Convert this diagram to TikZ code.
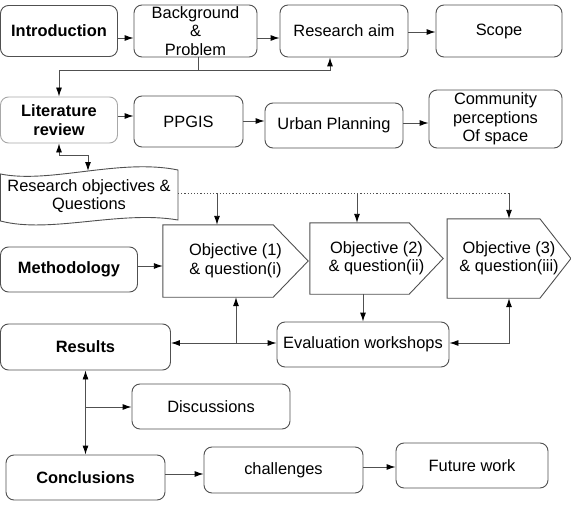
\documentclass[tikz,border=0pt]{standalone}
\usepackage{fontspec}
\setmainfont{Liberation Sans}
\usetikzlibrary{arrows.meta,calc}
\definecolor{linegray}{HTML}{505050}
\definecolor{lightgray}{HTML}{A8A8A8}
\begin{document}
\begin{tikzpicture}[x=1pt,y=-1pt,
  txt/.style={font=\fontsize{16.4}{18.5}\selectfont, text=black, inner sep=0pt, align=center},
  bold/.style={font=\fontsize{16.4}{18.5}\selectfont\bfseries},
  box/.style={txt, draw=linegray, line width=0.9pt, rounded corners=8pt},
  lnk/.style={draw=linegray, line width=0.9pt},
  arr/.style={lnk, -{Latex[length=9pt,width=6pt,black]}},
  barr/.style={lnk, {Latex[length=9pt,width=6pt,black]}-{Latex[length=9pt,width=6pt,black]}},
  objtxt/.style={txt},
]
\useasboundingbox (0,0) rectangle (571,511);

% top row
\node[box, bold, minimum width=117, minimum height=51] (intro) at (59,31) {Introduction};
\node[box, minimum width=123, minimum height=52] (bg) at (195.5,31) {Background\\\&\\Problem};
\node[box, minimum width=128, minimum height=52] (aim) at (344,31) {Research aim};
\node[box, minimum width=126, minimum height=52] (scope) at (499,31) {Scope};

% second row
\node[box, bold, draw=lightgray, minimum width=117, minimum height=46] (lit) at (59,120) {Literature\\review};
\node[box, minimum width=109, minimum height=51] (ppgis) at (188.5,121.5) {PPGIS};
\node[box, minimum width=138, minimum height=45] (urban) at (334,125.5) {Urban Planning};
\node[box, minimum width=133, minimum height=58] (comm) at (495.5,119) {Community\\perceptions\\Of space};

% tape
\draw[lnk, fill=white] (0.5,174) .. controls (50,184) and (120,158) .. (178,170) -- (178,220) .. controls (120,210) and (50,234) .. (0.5,221) -- cycle;
\node[txt] (roq) at (89,196) {Research objectives \&\\Questions};
\coordinate (tt) at (88,171);
\coordinate (tr) at (178,193);

% objectives
\node[box, bold, minimum width=137, minimum height=45] (meth) at (69,269.5) {Methodology};
\node[objtxt, minimum width=145, minimum height=72] (obj1) at (235.5,261) {Objective (1)\\\& question(i)};
\node[objtxt, minimum width=133, minimum height=71] (obj2) at (376.5,258.5) {Objective (2)\\\& question(ii)};
\node[objtxt, minimum width=123.5, minimum height=79] (obj3) at (509,258.5) {Objective (3)\\\& question(iii)};
\draw[lnk] (obj1.north west) -- ($(obj1.north east)+(-35,0)$) -- (obj1.east) -- ($(obj1.south east)+(-35,0)$) -- (obj1.south west) -- cycle;
\draw[lnk] (obj2.north west) -- ($(obj2.north east)+(-34,0)$) -- (obj2.east) -- ($(obj2.south east)+(-34,0)$) -- (obj2.south west) -- cycle;
\draw[lnk] (obj3.north west) -- ($(obj3.north east)+(-31,0)$) -- (obj3.east) -- ($(obj3.south east)+(-31,0)$) -- (obj3.south west) -- cycle;

% lower part
\node[box, bold, minimum width=170, minimum height=46] (results) at (85.5,347) {Results};
\node[box, minimum width=172, minimum height=45] (eval) at (363,344.5) {Evaluation workshops};
\node[box, minimum width=158, minimum height=45] (disc) at (211,406.5) {Discussions};
\node[box, bold, minimum width=159, minimum height=45] (concl) at (85.5,477.5) {Conclusions};
\node[box, minimum width=159, minimum height=46] (chal) at (283.5,470) {challenges};
\node[box, minimum width=152, minimum height=45] (future) at (472,465.5) {Future work};

% connectors top
\draw[arr] (intro.east |- 0,38) -- (bg.west |- 0,38);
\draw[arr] (bg.east |- 0,38) -- (aim.west |- 0,38);
\draw[arr] (aim.east |- 0,32) -- (scope.west |- 0,32);
\coordinate (j1) at (198,70);
\coordinate (j2) at (330,70);
\draw[lnk] (j1 |- bg.south) -- (j1);
\draw[arr] (j1) -| (lit.north);
\draw[arr] (j1) -- (j2) -- (j2 |- aim.south);

\draw[arr] (lit.east |- 0,116) -- (ppgis.west |- 0,116);
\draw[arr] (ppgis.east |- 0,121) -- (urban.west |- 0,121);
\draw[arr] (urban.east |- 0,123) -- (comm.west |- 0,123);

\draw[barr] (lit.south) |- (tt |- 0,155) -- (tt);

% dotted distribution
\coordinate (d1) at (217,193);
\coordinate (d2) at (357,193);
\coordinate (d3) at (509,193);
\draw[lnk, dash pattern=on 1.2pt off 2pt] (tr) -- (d3);
\draw[arr] (d1) -- (d1 |- obj1.north);
\draw[arr] (d2) -- (d2 |- obj2.north);
\draw[arr] (d3) -- (obj3.north);

\draw[arr] (meth.east |- 0,266) -- (obj1.west |- 0,266);

% results / evaluation
\coordinate (r1) at (236,343);
\draw[barr] (results.east |- 0,343) -- (eval.west |- 0,343);
\draw[arr] (r1) -- (r1 |- obj1.south);
\draw[arr] (eval.north |- obj2.south) -- (eval.north);
\draw[barr] (eval.east |- 0,343) -| (obj3.south);

% results / conclusions
\coordinate (r2) at (85.5,407);
\draw[barr] (results.south) -- (concl.north);
\draw[arr] (r2) -- (disc.west |- r2);
\draw[arr] (concl.east |- 0,474) -- (chal.west |- 0,474);
\draw[arr] (chal.east |- 0,467) -- (future.west |- 0,467);
\end{tikzpicture}
\end{document}
